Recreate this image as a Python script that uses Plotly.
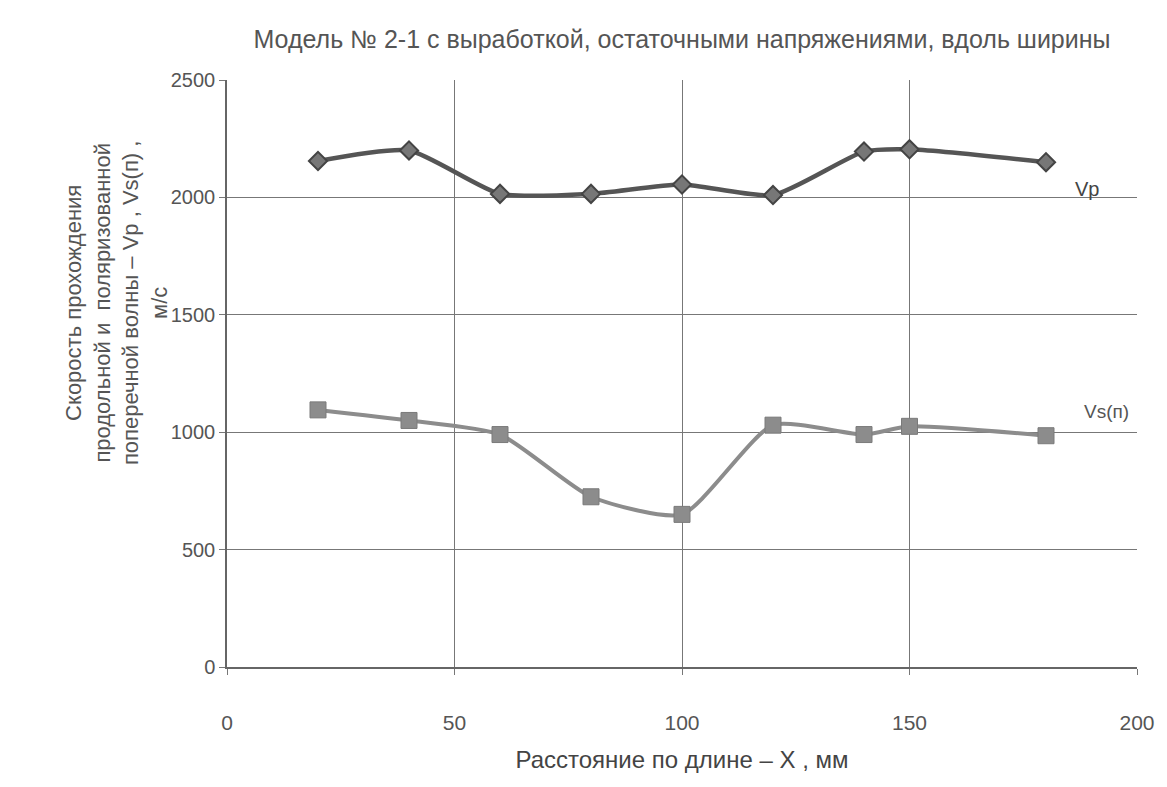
import plotly.graph_objects as go

x_vals = [20, 40, 60, 80, 100, 120, 140, 150, 180]
vp_vals = [2155, 2200, 2015, 2015, 2055, 2010, 2195, 2205, 2150]
vs_vals = [1095, 1050, 990, 725, 650, 1030, 990, 1025, 985]

x_ticks = [0, 50, 100, 150, 200]
y_ticks = [0, 500, 1000, 1500, 2000, 2500]

title_text = "Модель № 2-1 с выработкой, остаточными напряжениями, вдоль ширины"
y_title = ("Скорость прохождения<br>продольной и  поляризованной<br>"
           "поперечной волны – Vp , Vs(п) ,<br>м/с")
x_title = "Расстояние по длине – X , мм"

FONT = "Liberation Sans, Arial, sans-serif"

fig = go.Figure()
fig.add_trace(go.Scatter(
    x=x_vals, y=vs_vals, mode="lines+markers", name="Vs(п)",
    line=dict(color="#8c8c8c", width=4, shape="spline", smoothing=0.6),
    marker=dict(symbol="square", size=16, color="#8c8c8c",
                line=dict(color="#7a7a7a", width=1)),
))
fig.add_trace(go.Scatter(
    x=x_vals, y=vp_vals, mode="lines+markers", name="Vp",
    line=dict(color="#555555", width=4.5, shape="spline", smoothing=0.6),
    marker=dict(symbol="diamond", size=14, color="#777777",
                line=dict(color="#444444", width=2)),
))

fig.add_annotation(x=186, y=2035, text="Vp", showarrow=False,
                   font=dict(family=FONT, size=20, color="#444444"),
                   xanchor="left", yanchor="middle")
fig.add_annotation(x=188, y=1090, text="Vs(п)", showarrow=False,
                   font=dict(family=FONT, size=19, color="#555555"),
                   xanchor="left", yanchor="middle")
fig.add_annotation(xref="paper", yref="paper", x=-0.122, y=0.62,
                   text=y_title, textangle=-90, showarrow=False,
                   font=dict(family=FONT, size=22, color="#555555"),
                   xanchor="center", yanchor="middle", align="center")

fig.update_layout(
    width=1167, height=787,
    margin=dict(l=227, r=26, t=80, b=120),
    paper_bgcolor="white", plot_bgcolor="white",
    showlegend=False,
    font=dict(family=FONT, color="#444444"),
    title=dict(text=title_text, x=0.5, xref="paper", xanchor="center",
               y=0.95, yanchor="middle",
               font=dict(family=FONT, size=25, color="#555555")),
)
fig.update_xaxes(
    range=[0, 200], tickvals=x_ticks, ticks="outside", ticklen=6,
    tickcolor="#777777", showgrid=True, gridcolor="#777777", gridwidth=1.3,
    showline=True, linecolor="#666666", linewidth=1.5, zeroline=False,
    tickfont=dict(family=FONT, size=21, color="#555555"),
    ticklabelstandoff=30,
    title=dict(text=x_title, font=dict(family=FONT, size=24, color="#444444"),
               standoff=18),
)
fig.update_yaxes(
    range=[0, 2500], tickvals=y_ticks, ticks="outside", ticklen=6,
    tickcolor="#777777", showgrid=True, gridcolor="#777777", gridwidth=1.3,
    showline=True, linecolor="#666666", linewidth=1.5, zeroline=False,
    tickfont=dict(family=FONT, size=20, color="#555555"),
)

fig.write_html("out.html")
